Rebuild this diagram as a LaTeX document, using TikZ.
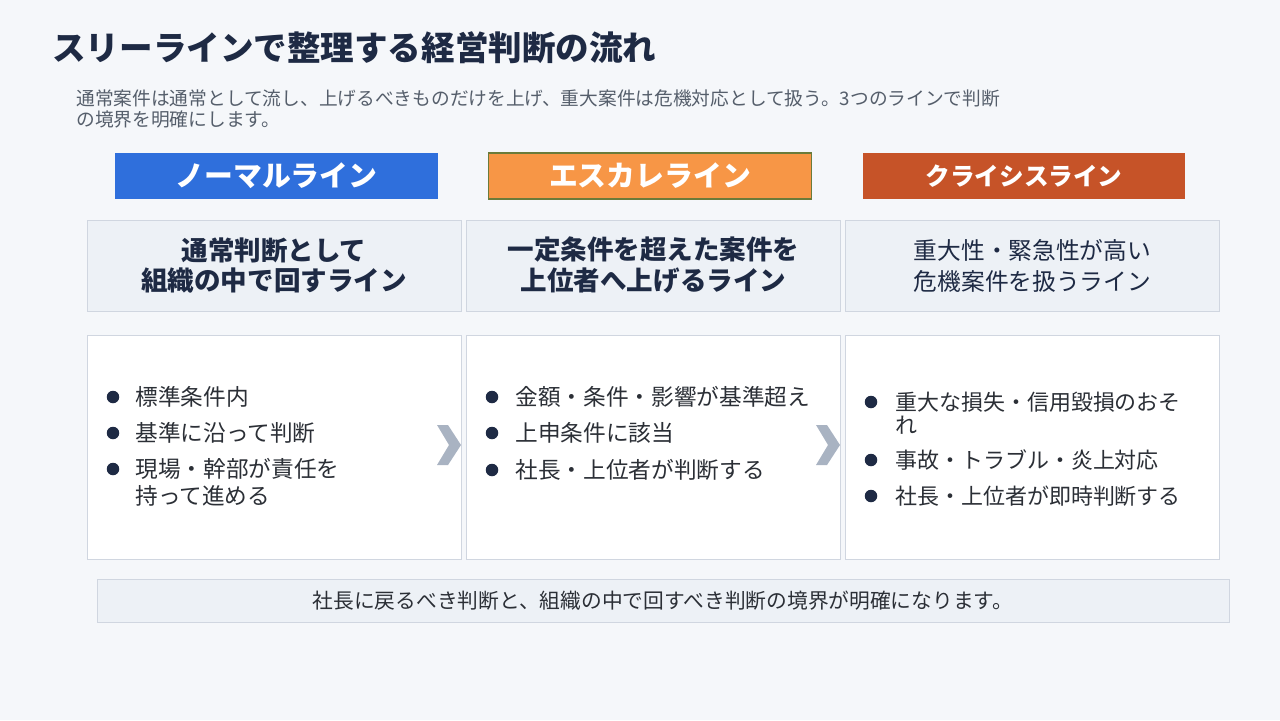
\documentclass[tikz,border=0pt]{standalone}
\usepackage{fontspec}
\setmainfont{Noto Sans CJK JP}
\usetikzlibrary{positioning}

\definecolor{pagebg}{HTML}{F5F7FA}
\definecolor{navy}{HTML}{1E2A44}
\definecolor{subgray}{HTML}{555E6B}
\definecolor{normalblue}{HTML}{2F6FDC}
\definecolor{escorange}{HTML}{F79646}
\definecolor{escedge}{HTML}{6B7B3A}
\definecolor{crisisred}{HTML}{C65328}
\definecolor{panelfill}{HTML}{EDF1F6}
\definecolor{paneledge}{HTML}{D0D6E0}
\definecolor{chevgray}{HTML}{A9B3C2}
\definecolor{bodytext}{HTML}{2B2F36}

\begin{document}
\begin{tikzpicture}[x=0.02cm,y=-0.02cm]
\tikzstyle{headbox}=[draw=none,minimum width=6.46cm,minimum height=0.92cm,text=white,font=\bfseries];
\tikzstyle{midbox}=[draw=paneledge,fill=panelfill,minimum width=7.48cm,minimum height=1.82cm,align=center,text=navy];
\tikzstyle{lowbox}=[draw=paneledge,fill=white,minimum width=7.48cm,minimum height=4.48cm];
\tikzstyle{dot}=[circle,fill=navy,inner sep=0pt,minimum size=0.25cm];
\tikzstyle{item}=[anchor=west,inner sep=0pt,align=left,text=bodytext];
% page
\fill[pagebg] (0,0) rectangle (1280,720);
\useasboundingbox (0,0) rectangle (1280,720);
% title
\node[anchor=west,inner sep=0pt,text=navy,font=\bfseries\fontsize{19.1}{22}\selectfont] (title) at (52,48) {スリーラインで整理する経営判断の流れ};
\node[anchor=west,inner sep=0pt,align=left,text=subgray,font=\fontsize{10.65}{11.9}\selectfont] (sub) at (76,108.5) {通常案件は通常として流し、上げるべきものだけを上げ、重大案件は危機対応として扱う。3つのラインで判断\\の境界を明確にします。};
% line headers
\node[headbox,fill=normalblue,font=\bfseries\fontsize{16.4}{19}\selectfont] (h1) at (276.5,176) {ノーマルライン};
\node[headbox,fill=escorange,draw=escedge,line width=0.6pt,font=\bfseries\fontsize{16.4}{19}\selectfont] (h2) at (650,176) {エスカレライン};
\node[headbox,fill=crisisred,font=\bfseries\fontsize{14}{17}\selectfont] (h3) at (1024,176) {クライシスライン};
% descriptions
\node[midbox,font=\bfseries\fontsize{15.1}{17.6}\selectfont] (m1) at (274,265.5) {通常判断として\\組織の中で回すライン};
\node[midbox,font=\bfseries\fontsize{15.1}{17.6}\selectfont] (m2) at (653.5,265.5) {一定条件を超えた案件を\\上位者へ上げるライン};
\node[midbox,font=\fontsize{13.5}{17.6}\selectfont] (m3) at (1032.5,265.5) {重大性・緊急性が高い\\危機案件を扱うライン};
% detail panels
\node[lowbox] (b1) at (274,447) {};
\node[lowbox] (b2) at (653.5,447) {};
\node[lowbox] (b3) at (1032.5,447) {};
% normal line items
\tikzstyle{every node}=[font=\fontsize{12.9}{15.3}\selectfont];
\node[dot] (d11) at (113,397) {};
\node[item] (t11) at (135,397) {標準条件内};
\node[dot] (d12) at (113,433) {};
\node[item] (t12) at (135,433) {基準に沿って判断};
\node[dot] (d13) at (113,469) {};
\node[item] (t13) at (135,482.5) {現場・幹部が責任を\\持って進める};
% escalation line items
\node[dot] (d21) at (492,397) {};
\node[item] (t21) at (515,397) {金額・条件・影響が基準超え};
\node[dot] (d22) at (492,433) {};
\node[item] (t22) at (515,433) {上申条件に該当};
\node[dot] (d23) at (492,470) {};
\node[item] (t23) at (515,470) {社長・上位者が判断する};
% crisis line items
\tikzstyle{every node}=[font=\fontsize{12.5}{13}\selectfont];
\node[dot] (d31) at (871,402) {};
\node[item] (t31) at (895,413.5) {重大な損失・信用毀損のおそ\\れ};
\node[dot] (d32) at (871,460) {};
\node[item] (t32) at (895,460) {事故・トラブル・炎上対応};
\node[dot] (d33) at (871,496) {};
\node[item] (t33) at (895,496) {社長・上位者が即時判断する};
\tikzstyle{every node}=[];
% chevrons between panels
\foreach \cx in {449,828}
  \fill[chevgray,shift={(\cx,445)}] (-12,-20) -- (-1,-20) -- (12,0) -- (-1,20) -- (-12,20) -- (0,0) -- cycle;
% summary
\node[draw=paneledge,fill=panelfill,minimum width=22.64cm,minimum height=0.86cm,text=bodytext,font=\fontsize{11.8}{13}\selectfont] (sum) at (663,600.5) {社長に戻るべき判断と、組織の中で回すべき判断の境界が明確になります。};
\end{tikzpicture}
\end{document}
